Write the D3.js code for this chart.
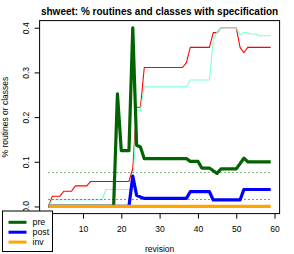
<!DOCTYPE html>
<html>
  <head>
    <meta charset="UTF-8">
    <title>shweet: % routines and classes with specification</title>
    <style>
      body { margin: 0; background: #fff; }
      svg { display: block; font-family: "Liberation Sans", Arial, Helvetica, sans-serif; }
    </style>
  </head>
  <body>

    <svg></svg>

    <script src="https://d3js.org/d3.v7.min.js"></script>
    <script>

/* DATA */

var revisions = d3.range(1, 60); // revisions 1..59

// thin lines
var routines = [0,
  0.023, 0.023, 0.023,
  0.034, 0.034, 0.034,
  0.046, 0.046, 0.046, 0.046,
  0.056, 0.056, 0.056, 0.056, 0.056, 0.056, 0.056, 0.056, 0.056, 0.056, 0.056,
  0.085,
  0.222, 0.222,
  0.311, 0.311, 0.311, 0.311, 0.311, 0.311, 0.311, 0.311, 0.311, 0.311, 0.311,
  0.322,
  0.356, 0.356, 0.356, 0.356, 0.356, 0.356,
  0.389, 0.389,
  0.400, 0.400, 0.400, 0.400, 0.400,
  0.356, 0.344,
  0.356, 0.356, 0.356, 0.356, 0.356, 0.356, 0.356];

var classes = [0,
  0.015, 0.015, 0.015, 0.015, 0.015, 0.015, 0.015, 0.015, 0.015, 0.015, 0.015, 0.015, 0.015, 0.015,
  0.038, 0.038, 0.038, 0.038, 0.038, 0.038, 0.038, 0.038,
  0.215, 0.215,
  0.268, 0.268, 0.268, 0.268, 0.268, 0.268, 0.268, 0.268, 0.268, 0.268, 0.268, 0.268,
  0.283, 0.283, 0.283, 0.283, 0.283, 0.283,
  0.372, 0.391,
  0.400, 0.400, 0.400, 0.400, 0.400,
  0.384, 0.390, 0.388, 0.386, 0.386,
  0.382, 0.382, 0.382, 0.382];

// thick lines
var pre = [0, 0, 0, 0, 0, 0, 0, 0, 0, 0, 0, 0, 0, 0, 0, 0, 0, 0,
  0.252,
  0.125, 0.125, 0.125,
  0.400,
  0.137, 0.133,
  0.107, 0.107, 0.107, 0.107, 0.107, 0.107, 0.107, 0.107, 0.107, 0.107, 0.107, 0.107,
  0.101, 0.101, 0.101,
  0.086, 0.086, 0.086,
  0.080, 0.074,
  0.084, 0.084, 0.084, 0.084, 0.084,
  0.096, 0.108,
  0.100, 0.100, 0.100, 0.100, 0.100, 0.100, 0.100];

var post = [0, 0, 0, 0, 0, 0, 0, 0, 0, 0, 0, 0, 0, 0, 0, 0, 0, 0, 0, 0, 0, 0,
  0.068, 0.025, 0.021,
  0.018, 0.018, 0.018, 0.018, 0.018, 0.018, 0.018, 0.018, 0.018, 0.018, 0.018, 0.018,
  0.033, 0.033, 0.033, 0.033, 0.033, 0.033,
  0.0145, 0.0145, 0.0145, 0.0145, 0.0145, 0.0145, 0.0145, 0.0145,
  0.038, 0.038, 0.038, 0.038, 0.038, 0.038, 0.038, 0.038];

var inv = [0, 0, 0, 0, 0, 0, 0, 0, 0, 0, 0, 0, 0, 0, 0, 0, 0, 0, 0, 0,
  0, 0, 0, 0, 0, 0, 0, 0, 0, 0, 0, 0, 0, 0, 0, 0, 0, 0, 0, 0,
  0, 0, 0, 0, 0, 0, 0, 0, 0, 0, 0, 0, 0, 0, 0, 0, 0, 0, 0];

// dotted reference levels
var preLevel = 0.078;
var postLevel = 0.0168;

// the 0 tick sits under the legend in the original, so it is left out
var xTicks = [10, 20, 30, 40, 50, 60];
var yTicks = [0, 0.1, 0.2, 0.3, 0.4];
var legendKeys = ["pre", "post", "inv"];

var config = {
  "width": 294,
  "height": 254,
  "plot": { "left": 39.6, "right": 279.6, "top": 20.6, "bottom": 213.6 },
  "title": "shweet: % routines and classes with specification",
  "xLabel": "revision",
  "yLabel": "% routines or classes"
};

var colors = {
  "routines": "#ff0000",
  "classes": "#7fffd4",
  "pre": "#006400",
  "post": "#0000ff",
  "inv": "#ffa500"
};

/* SETUP */

var svg = d3.select("svg")
  .attr("width", config.width)
  .attr("height", config.height);

var p = config.plot;

// R style: 4% padding around the data range
var x = d3.scaleLinear()
  .domain([1 - 0.04 * 58, 59 + 0.04 * 58])
  .range([p.left, p.right]);

var y = d3.scaleLinear()
  .domain([0 - 0.04 * 0.4, 0.4 + 0.04 * 0.4])
  .range([p.bottom, p.top]);

function series(values) {
  return revisions.map(function(r, i) { return [r, values[i]]; });
}

var line = d3.line()
  .x(function(d) { return x(d[0]); })
  .y(function(d) { return y(d[1]); });

/* LINES */

var lines = [
  { values: routines, color: colors.routines, width: 1.1 },
  { values: classes, color: colors.classes, width: 1.1 },
  { values: pre, color: colors.pre, width: 3.2 },
  { values: post, color: colors.post, width: 3.2 },
  { values: inv, color: colors.inv, width: 3.2 }
];

svg.append("g")
  .selectAll("path")
  .data(lines)
  .enter().append("path")
    .attr("fill", "none")
    .attr("stroke", function(d) { return d.color; })
    .attr("stroke-width", function(d) { return d.width; })
    .attr("stroke-linejoin", "round")
    .attr("d", function(d) { return line(series(d.values)); });

// dotted levels
[[preLevel, colors.pre], [postLevel, colors.post]].forEach(function(lv) {
  var yy = Math.round(y(lv[0])) + 0.5;
  svg.append("line")
    .attr("x1", x(1)).attr("x2", x(59))
    .attr("y1", yy).attr("y2", yy)
    .attr("stroke", lv[1])
    .attr("stroke-width", 1)
    .attr("stroke-dasharray", "1,3");
});

/* BOX AND AXES */

svg.append("rect")
  .attr("x", p.left).attr("y", p.top)
  .attr("width", p.right - p.left)
  .attr("height", p.bottom - p.top)
  .attr("fill", "none")
  .attr("stroke", "#000")
  .attr("stroke-width", 1);

var xAxis = svg.append("g")
  .attr("transform", "translate(0," + p.bottom + ")")
  .call(d3.axisBottom(x).tickValues(xTicks).tickSize(5).tickSizeOuter(0).tickFormat(d3.format("d")));
xAxis.select(".domain").remove();
xAxis.selectAll("text")
  .attr("y", 15.5)
  .attr("dy", "0.35em")
  .attr("font-size", 8.5)
  .attr("font-family", null)
  .attr("fill", "#000");

var yAxis = svg.append("g")
  .attr("transform", "translate(" + p.left + ",0)")
  .call(d3.axisLeft(y).tickValues(yTicks).tickSize(5).tickSizeOuter(0).tickFormat(d3.format(".1f")));
yAxis.select(".domain").remove();
yAxis.selectAll("text")
  .attr("x", 0)
  .attr("dy", "0.35em")
  .attr("text-anchor", "middle")
  .attr("transform", "translate(-13.6,0) rotate(-90)")
  .attr("font-size", 8.5)
  .attr("font-family", null)
  .attr("fill", "#000");

/* TEXT */

svg.append("text")
  .attr("x", (p.left + p.right) / 2)
  .attr("y", 11)
  .attr("dy", "0.35em")
  .attr("text-anchor", "middle")
  .attr("font-weight", "bold")
  .attr("font-size", 10)
  .text(config.title);

svg.append("text")
  .attr("x", (p.left + p.right) / 2)
  .attr("y", 249)
  .attr("dy", "0.35em")
  .attr("text-anchor", "middle")
  .attr("font-size", 8.5)
  .text(config.xLabel);

svg.append("text")
  .attr("transform", "translate(5.5," + (p.top + p.bottom) / 2 + ") rotate(-90)")
  .attr("dy", "0.35em")
  .attr("text-anchor", "middle")
  .attr("font-size", 8.5)
  .text(config.yLabel);

/* LEGEND */

var legend = svg.append("g")
  .attr("transform", "translate(2.5,211)");

legend.append("rect")
  .attr("width", 50)
  .attr("height", 40.5)
  .attr("fill", "#fff")
  .attr("stroke", "#000")
  .attr("stroke-width", 1);

var item = legend.selectAll("g")
  .data(legendKeys)
  .enter().append("g")
  .attr("transform", function(d, i) { return "translate(0," + (11.3 + i * 9.9) + ")"; });

item.append("line")
  .attr("x1", 6).attr("x2", 24)
  .attr("stroke", function(d) { return colors[d]; })
  .attr("stroke-width", 3);

item.append("text")
  .attr("x", 30)
  .attr("dy", "0.35em")
  .attr("font-size", 8.8)
  .text(function(d) { return d; });

    </script>
  </body>
</html>
